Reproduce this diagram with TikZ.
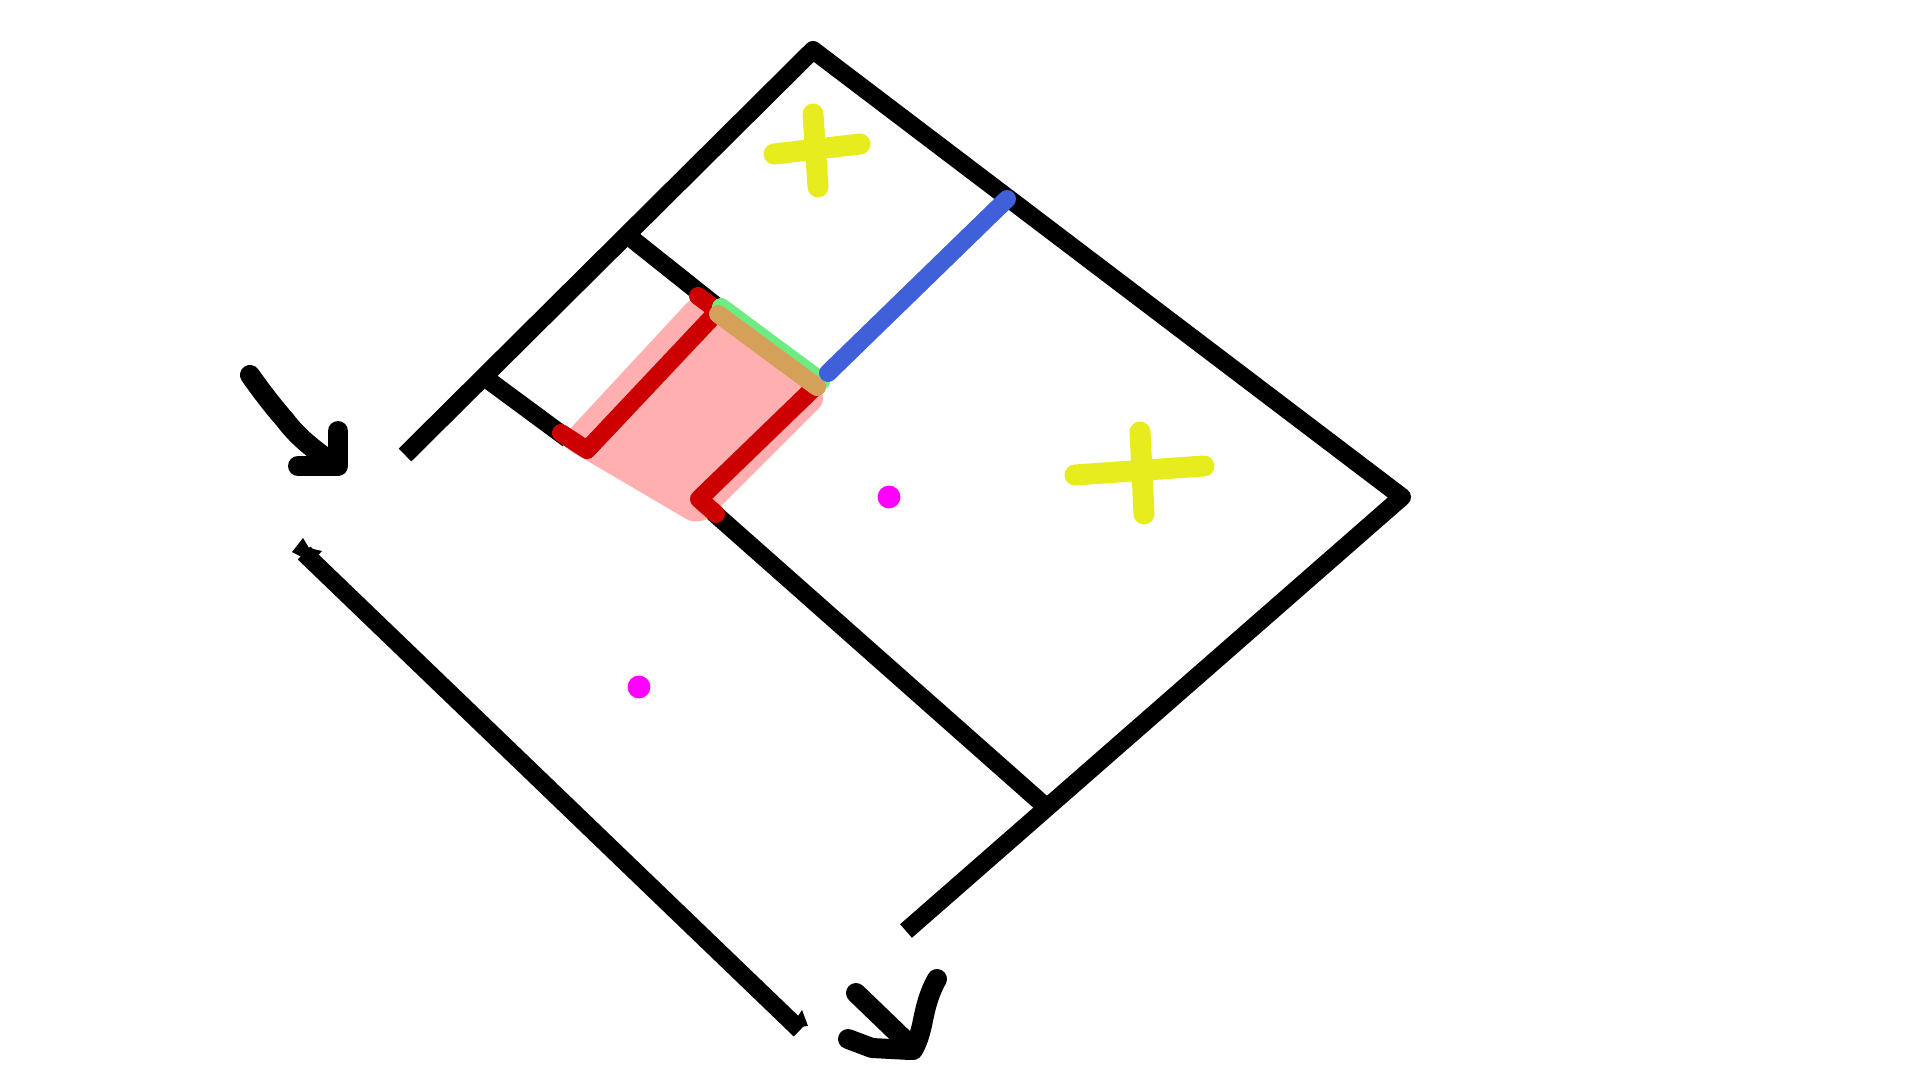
\documentclass[tikz,border=0pt]{standalone}
\definecolor{sred}{HTML}{CC0000}
\definecolor{spink}{HTML}{FFAFAF}
\definecolor{sgreen}{HTML}{6EEB82}
\definecolor{stan}{HTML}{D4A05A}
\definecolor{sblue}{HTML}{3F60D8}
\definecolor{syellow}{HTML}{E6EC1E}
\definecolor{smag}{HTML}{FF00FF}
\begin{document}
\begin{tikzpicture}[x=0.5pt,y=-0.5pt,
  wall/.style={draw=black,line width=9pt,line join=round,line cap=butt},
  redline/.style={draw=sred,line width=9pt,line join=round,line cap=round},
  penstroke/.style={draw=black,line width=10pt,line cap=round,line join=round},
  crossbar/.style={draw=syellow,line width=10.5pt,line cap=round},
  dot/.style={fill=smag}]
\useasboundingbox[fill=white] (0,0) rectangle (1920,1080);
% corner coordinates
\coordinate (L) at (405,455);
\coordinate (T) at (813,50);
\coordinate (R) at (1402,497);
\coordinate (B) at (906,931);
\coordinate (J1) at (627,235);
\coordinate (J2) at (484,377);
\coordinate (J3) at (1045,806);
% black walls
\draw[wall] (L) -- (T) -- (R) -- (B);
\draw[wall] (J1) -- (720,309);
\draw[wall] (J2) -- (568,439);
\draw[wall] (705,505) -- (J3);
\draw[wall] (304,553) -- (800,1030);
\fill[black] (292,552) -- (303,538) -- (309,548) -- (322,551) -- (312,562) -- cycle;
\fill[black] (790,1028) -- (802,1010) -- (808,1026) -- cycle;
% pink region
\fill[spink,rounded corners=8pt] (557,443) -- (697,292) -- (830,397) -- (700,527) -- cycle;
% red lines
\draw[redline] (698,296) -- (718,311) -- (587,450) -- (561,433);
\draw[redline] (818,384) -- (699,499) -- (716,514);
% green and tan
\draw[draw=sgreen,line width=9pt,line cap=round] (721,307) -- (821,381);
\draw[draw=stan,line width=9pt,line cap=round] (718,314) -- (817,387);
% blue
\draw[draw=sblue,line width=9pt,line cap=round] (828,373) -- (1007,199);
% yellow crosses
\draw[crossbar] (813,114) -- (818,187);
\draw[crossbar] (774,154) -- (860,144);
\draw[crossbar] (1140,432) -- (1144,514);
\draw[crossbar] (1075,475) -- (1204,466);
% magenta dots
\fill[dot] (889,497) circle[radius=5.7pt];
\fill[dot] (639,687) circle[radius=5.7pt];
% hand-drawn arrows
\draw[penstroke] (250,375) .. controls (262,392) and (272,405) .. (285,420) .. controls (300,440) and (318,452) .. (334,464);
\draw[penstroke] (338,431) -- (338,466);
\draw[penstroke] (298,466) -- (336,466);
\draw[penstroke] (856,993) -- (910,1045);
\draw[penstroke] (937,979) .. controls (928,995) and (925,1010) .. (922,1025) .. controls (919,1038) and (916,1045) .. (913,1050);
\draw[penstroke] (848,1039) -- (872,1048) -- (910,1050);
\end{tikzpicture}
\end{document}
